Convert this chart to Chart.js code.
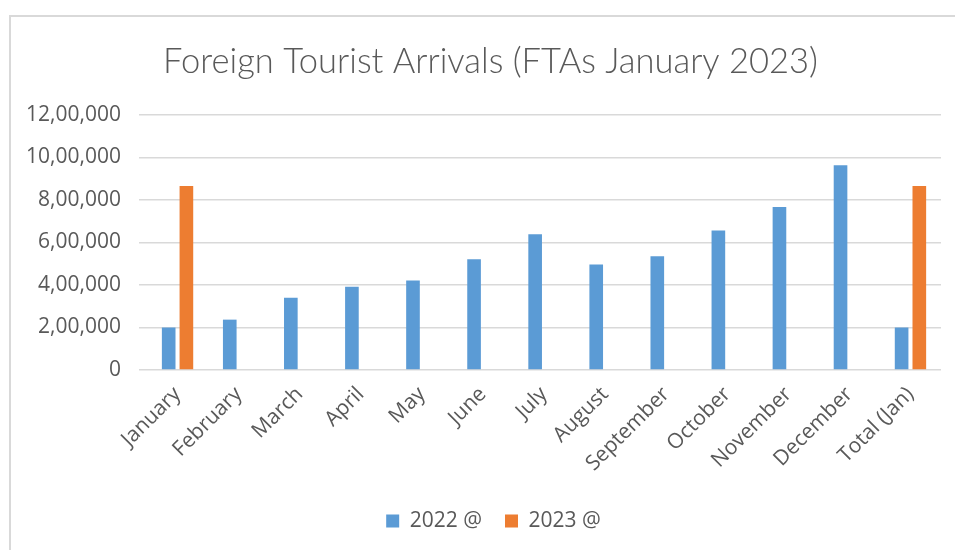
<!DOCTYPE html>
<html>
<head>
<meta charset="utf-8">
<title>Foreign Tourist Arrivals</title>
<script src="https://cdn.jsdelivr.net/npm/chart.js@4"></script>
<style>
    html, body { margin: 0; padding: 0; background: #fff; }
    #stage { position: relative; width: 955px; height: 550px; overflow: hidden; }
    #frame {
        position: absolute; left: 9px; top: 15px;
        width: 1000px; height: 1000px;
        border: 2px solid #d9d9d9;
    }
    #chart { position: absolute; left: 0; top: 0; }
</style>
</head>
<body>
<div id="stage">
    <div id="frame"></div>
    <canvas id="chart" width="955" height="550"></canvas>
</div>
<script>
// ─── Data ───
const categories = ['January', 'February', 'March', 'April', 'May', 'June', 'July',
    'August', 'September', 'October', 'November', 'December', 'Total (Jan)'];
const arrivals2022 = [200000, 237000, 340000, 392000, 421000, 521000, 639000,
    497000, 535000, 656000, 767000, 964000, 200000];
const arrivals2023 = [866000, null, null, null, null, null, null,
    null, null, null, null, null, 866000];
const seriesNames = ['2022 @', '2023 @'];

// ─── Look ───
const textColor = '#595959';
const gridColor = '#d9d9d9';
const tickFont = { family: "'Open Sans', sans-serif", size: 21 };

const fmtIndian = (v) => Number(v).toLocaleString('en-IN');

// title and legend sit a bit right of the canvas centre in the original
const nudgeBoxes = {
    id: 'nudgeBoxes',
    afterLayout(chart) {
        if (chart.legend) chart.legend.left += 46;
        if (chart.titleBlock) chart.titleBlock.left += 40;
    }
};

new Chart(document.getElementById('chart').getContext('2d'), {
    type: 'bar',
    data: {
        labels: categories,
        datasets: [
            { label: seriesNames[0], data: arrivals2022, backgroundColor: '#5b9bd5' },
            { label: seriesNames[1], data: arrivals2023, backgroundColor: '#ed7d31' }
        ]
    },
    plugins: [nudgeBoxes],
    options: {
        responsive: false,
        animation: false,
        devicePixelRatio: 1,
        categoryPercentage: 0.58,
        barPercentage: 0.77,
        layout: { padding: { left: 0, right: 14, top: 0, bottom: 8.5 } },
        plugins: {
            title: {
                display: true,
                text: 'Foreign Tourist Arrivals (FTAs January 2023)',
                color: textColor,
                font: { family: "Lato, sans-serif", size: 34.5, weight: 300, lineHeight: 1.2 },
                padding: { top: 41.3, bottom: 32.3 }
            },
            legend: {
                position: 'bottom',
                labels: {
                    color: textColor,
                    font: { family: "'Open Sans', sans-serif", size: 21 },
                    boxWidth: 13,
                    boxHeight: 13,
                    padding: 23
                }
            },
            tooltip: { enabled: false }
        },
        scales: {
            x: {
                grid: { display: false },
                border: { display: false },
                ticks: {
                    color: textColor,
                    font: tickFont,
                    maxRotation: 45,
                    minRotation: 45,
                    padding: 4
                },
                afterFit: (scale) => { scale.height = 117.5; }
            },
            y: {
                min: 0,
                max: 1200000,
                border: { display: false },
                grid: { color: gridColor, lineWidth: 1.5 },
                ticks: {
                    stepSize: 200000,
                    color: textColor,
                    font: tickFont,
                    padding: 18,
                    callback: (v) => fmtIndian(v)
                },
                afterFit: (scale) => { scale.width = 147; }
            }
        }
    }
});
</script>
</body>
</html>
